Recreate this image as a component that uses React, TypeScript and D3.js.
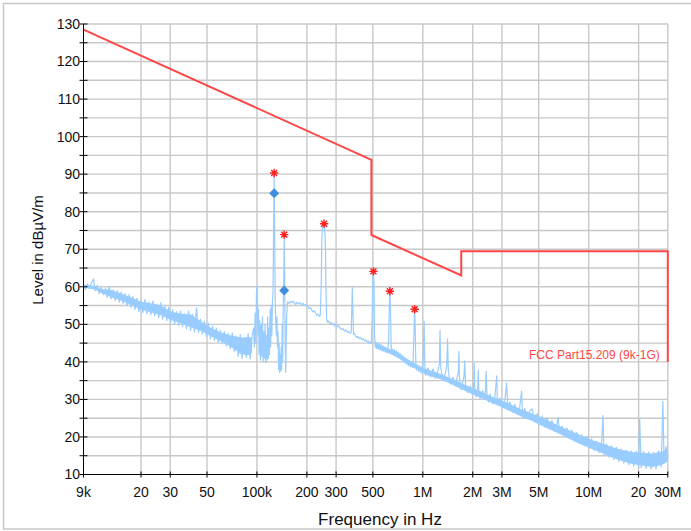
import React from 'react';
import * as d3 from 'd3';

// ---- axis ticks ----
const xTickValues = [9e3, 2e4, 3e4, 5e4, 1e5, 2e5, 3e5, 5e5, 1e6, 2e6, 3e6, 5e6, 1e7, 2e7, 3e7];
const xTickLabels = ['9k', '20', '30', '50', '100k', '200', '300', '500', '1M', '2M', '3M', '5M', '10M', '20', '30M'];
const yMajorTicks = [10, 20, 30, 40, 50, 60, 70, 80, 90, 100, 110, 120, 130];
const yMinorTicks = [15, 25, 35, 45, 55, 65, 75, 85, 95, 105, 115, 125];

// ---- limit line FCC Part15.209 (Hz, dBµV/m) ----
const limitLine: [number, number][] = [
  [9e3, 128.5], [490e3, 93.8], [490e3, 73.8], [1.705e6, 63.0], [1.705e6, 69.5], [30e6, 69.5], [30e6, 40],
];
const limitLabel = 'FCC Part15.209 (9k-1G)';

// ---- markers (kHz, dBµV/m) ----
const peakMarkers: [number, number][] = [
  [127, 90.3], [146, 73.9], [254, 76.8], [504, 64.1], [633, 58.8], [893, 54.0],
];
const qpMarkers: [number, number][] = [
  [127, 84.9], [146, 59.0],
];

// ---- dense noise band of the measured spectrum (kHz, low dB, high dB) ----
const bandLow: [number, number, number][] = [
  [9, 59.8, 60.6], [10.6, 59.2, 60.2], [11.4, 58.5, 59.4], [13.1, 57.3, 59.2], [15, 56.4, 58.3], [17.3, 55.2, 57.3],
  [19.9, 54.0, 56.0], [22.8, 53.2, 55.6], [26.3, 52.5, 55.0], [30.2, 51.2, 53.4], [34.7, 50.3, 52.8], [39.9, 49.2, 52.6],
  [45.9, 48.3, 50.8], [52.8, 46.8, 49.0], [60.7, 45.5, 47.8], [69.7, 44.0, 47.0], [80.2, 42.0, 46.5], [89.6, 41.8, 46.6],
  [93.5, 42.5, 46.5],
];
const bandHigh: [number, number, number][] = [
  [516, 43.8, 45.0], [600, 42.6, 43.8], [700, 41.3, 42.6], [800, 39.5, 40.8], [900, 38.2, 39.5], [1000, 37.2, 38.4],
  [1040, 36.6, 38.2], [1290, 35.3, 36.8], [1480, 34.1, 35.6], [1700, 32.8, 34.4], [1960, 31.5, 33.2], [2250, 30.4, 32.1],
  [2590, 29.1, 30.8], [2980, 28.0, 29.8], [3420, 26.7, 28.6], [3940, 25.4, 27.3], [4530, 24.3, 26.3], [5200, 23.0, 25.2],
  [6000, 21.8, 23.9], [6880, 20.5, 22.6], [7900, 19.2, 21.5], [9100, 17.9, 20.3], [10460, 16.8, 19.2], [12000, 15.7, 18.3],
  [13800, 14.5, 17.3], [15900, 13.6, 16.5], [18300, 12.8, 16.0], [21000, 12.4, 15.8], [24200, 12.0, 15.6],
  [27800, 12.6, 16.2], [30000, 13.5, 17.0],
];

// ---- measured spectrum trace (kHz, dBµV/m) ----
const traceLow: [number, number][] = [
  [9.0, 60.5], [9.25, 59.3], [9.5, 60.8], [9.77, 59.6], [10.05, 61.0], [10.33, 62.1], [10.6, 58.9], [10.9, 60.4],
  [11.2, 58.2], [11.5, 59.8], [11.85, 57.9], [12.2, 59.5], [12.5, 57.2], [12.85, 60.1], [13.2, 56.8], [13.6, 59.2],
  [14.0, 56.3], [14.4, 58.9], [14.8, 55.9], [15.2, 58.6], [15.6, 55.6], [16.0, 58.2], [16.5, 55.0], [16.95, 57.9],
  [17.4, 54.5], [17.9, 57.4], [18.4, 54.0], [18.9, 56.9], [19.4, 53.4], [20.0, 56.4], [20.5, 53.1], [21.1, 56.6],
  [21.7, 52.8], [22.3, 55.9], [22.9, 52.6], [23.6, 56.2], [24.2, 52.3], [24.9, 55.4], [25.6, 51.8], [26.3, 55.7],
  [27.0, 51.4], [27.8, 54.8], [28.6, 51.0], [29.4, 54.5], [30.2, 50.5], [31.0, 53.9], [31.9, 50.2], [32.8, 53.4],
  [33.7, 49.7], [34.6, 53.5], [35.6, 49.4], [36.6, 52.8], [37.6, 48.9], [38.7, 53.5], [39.8, 48.3], [40.9, 52.6],
  [42.0, 48.0], [43.2, 54.4], [44.4, 47.8], [45.6, 51.4], [46.9, 47.4], [48.2, 50.8], [49.6, 46.8], [51.0, 50.3],
  [52.4, 46.1], [53.9, 49.5], [55.4, 45.7], [56.9, 49.0], [58.5, 45.2], [60.2, 48.3], [61.8, 44.8], [63.6, 48.0],
  [65.4, 44.2], [67.2, 47.5], [69.1, 43.5], [71.0, 47.7], [73.0, 42.8], [75.0, 46.9], [77.1, 41.5], [79.3, 47.3],
  [81.5, 40.9], [83.8, 46.2], [86.1, 41.2], [88.5, 47.5], [91.0, 40.8], [93.5, 47.0],
];
const traceMid: [number, number][] = [
  [95.5, 49], [96.5, 44], [97.5, 53], [98.5, 45], [99.3, 58], [100, 60.1], [100.8, 55], [101.5, 47], [102.3, 54],
  [103, 42], [104, 51], [105, 40.5], [106, 50], [107, 41.5], [108, 52], [109, 40], [110, 48], [111, 41], [112, 50],
  [113, 39.8], [114, 47], [115, 40.5], [116, 52], [117, 41], [118, 49], [119, 42], [120, 54], [121, 44], [122, 55],
  [123, 47], [124, 56], [125, 58], [126, 75], [127, 90.3], [128, 72], [129, 55], [130, 50], [131, 47], [132, 52],
  [133, 44], [134, 48], [135, 38], [136, 45], [137, 37.2], [138, 42], [139, 37.5], [140, 44], [141, 38], [142, 50],
  [143, 40], [144, 55], [145, 62], [146, 73.9], [147, 62], [148, 45], [149, 37.2], [150, 45], [151, 52],
];
const traceHigh: [number, number][] = [
  [153, 56.0], [156, 55.6], [159, 56.1], [162, 55.8], [165, 56.2], [168, 55.7], [171, 55.3], [174, 55.9], [178, 55.5],
  [182, 55.8], [186, 55.2], [190, 55.6], [194, 54.9], [198, 55.3], [202, 54.7], [206, 54.2], [210, 54.5], [214, 53.8],
  [218, 53.3], [222, 53.6], [226, 52.9], [230, 52.4], [234, 52.7], [238, 52.1], [241, 52.4], [244, 60], [246, 72],
  [248, 75.5], [251, 76.8], [254, 76.6], [257, 74.5], [259, 70], [261, 58], [263, 51.5], [266, 50.6], [270, 50.9],
  [274, 50.3], [278, 50.6], [283, 49.9], [288, 50.3], [293, 49.6], [299, 50.0], [305, 49.3], [311, 49.6], [317, 49.0],
  [323, 48.6], [330, 48.9], [337, 48.2], [344, 48.5], [351, 47.9], [358, 48.1], [365, 47.6], [370, 47.9], [374, 56],
  [376, 59.8], [378, 55], [382, 47.3], [386, 47.6], [392, 47.0], [399, 46.5], [406, 46.8], [413, 46.2], [420, 46.5],
  [428, 45.9], [436, 46.2], [444, 45.6], [452, 45.9], [460, 45.3], [468, 45.6], [476, 45.0], [484, 45.3], [490, 44.8],
  [495, 52], [500, 62], [504, 64.1], [508, 60], [512, 47], [516, 44.0], [522, 45.3], [528, 43.6], [534, 45.1],
  [540, 43.4], [547, 44.8], [554, 43.2], [561, 44.6], [568, 42.9], [575, 44.3], [583, 42.7], [591, 44.0], [599, 42.5],
  [607, 43.6], [615, 42.4], [622, 46], [628, 55], [633, 58.8], [638, 55], [644, 45], [650, 42.0], [658, 43.4],
  [666, 41.8], [675, 43.2], [684, 41.5], [693, 42.9], [702, 41.2], [711, 42.6], [720, 41.0], [730, 42.2], [740, 40.6],
  [750, 41.8], [760, 40.1], [770, 41.3], [780, 39.7], [790, 40.9], [800, 39.3], [811, 40.6], [822, 39.0], [833, 40.3],
  [844, 38.7], [855, 40.0], [866, 38.5], [875, 41], [885, 48], [893, 54.0], [900, 49], [908, 39.5], [920, 37.8],
  [930, 39.2], [942, 37.5], [954, 38.9], [966, 37.2], [978, 38.7], [990, 37.0], [1000, 38.5], [1008, 42],
  [1018, 50.8], [1025, 43], [1032, 37.0],
];
const traceTop: [number, number][] = [
  [1040, 36.5], [1076, 38.4], [1114, 36.0], [1153, 38.1], [1193, 35.6], [1235, 37.7], [1258, 39.5], [1270, 48.4],
  [1283, 38.5], [1323, 35.1], [1369, 37.1], [1395, 39.0], [1410, 46.1], [1425, 37.5], [1467, 34.1], [1518, 35.9],
  [1571, 33.6], [1610, 35.8], [1640, 37.5], [1650, 42.8], [1662, 36.0], [1700, 32.6], [1742, 34.6], [1770, 36.0],
  [1790, 40.3], [1810, 33.5], [1866, 31.8], [1931, 33.6], [1999, 31.3], [2030, 34.5], [2040, 39.7], [2055, 33.5],
  [2100, 30.6], [2141, 32.9], [2160, 37.9], [2180, 31.5], [2216, 30.2], [2294, 32.3], [2374, 30.0], [2410, 37.5],
  [2440, 30.5], [2500, 29.3], [2543, 31.5], [2632, 28.9], [2724, 30.9], [2790, 36.3], [2820, 28.5], [2918, 30.4],
  [3020, 27.7], [3126, 29.8], [3200, 34.4], [3260, 27.3], [3349, 29.3], [3466, 26.6], [3587, 28.7], [3713, 26.0],
  [3843, 28.0], [3940, 32.2], [4000, 25.3], [4116, 27.6], [4260, 24.9], [4410, 26.9], [4560, 27.5], [4720, 24.0],
  [4890, 26.2], [5060, 23.3], [5240, 25.6], [5420, 22.7], [5610, 25.0], [5810, 22.1], [6010, 24.4], [6220, 21.5],
  [6440, 23.6], [6550, 25.2], [6660, 20.9], [6900, 22.9], [7140, 20.3], [7390, 22.4], [7650, 19.6], [7910, 21.8],
  [8190, 18.9], [8480, 21.2], [8770, 18.3], [9080, 20.6], [9400, 17.6], [9730, 20.1], [10070, 17.0], [10420, 19.5],
  [10780, 16.4], [11160, 18.9], [11550, 15.8], [11960, 18.6], [12200, 25.7], [12370, 15.3], [12810, 18.1],
  [13260, 14.6], [13720, 17.6], [14200, 14.0], [14700, 17.2], [15210, 13.4], [15740, 16.8], [16290, 13.0],
  [16860, 16.5], [17450, 12.6], [18060, 16.3], [18700, 12.3], [19350, 16.2], [20030, 12.0], [20300, 24.8],
  [20730, 11.9], [21450, 16.1], [22200, 11.6], [22980, 16.0], [23790, 11.4], [24620, 15.9], [25480, 11.5],
  [26370, 16.3], [27300, 12.0], [27700, 20], [28000, 29.5], [28250, 22], [28500, 13], [29240, 17.4], [30000, 14.5],
];

const FONT = "'Liberation Sans', Arial, Helvetica, sans-serif";

export default function App() {
  const W = 691;
  const H = 531;
  const x = d3.scaleLog().domain([9e3, 30e6]).range([83.5, 667.8]);
  const y = d3.scaleLinear().domain([10, 130]).range([474.5, 24]);
  const [x0, x1] = x.range();
  const [yb, yt] = y.range();

  const trace = [...traceLow, ...traceMid, ...traceHigh, ...traceTop].map(([k, v]) => [k * 1000, v] as [number, number]);
  const line = d3.line<[number, number]>().x((d) => x(d[0])).y((d) => y(d[1]));
  const area = d3
    .area<[number, number, number]>()
    .x((d) => x(d[0] * 1000))
    .y0((d) => y(d[1]))
    .y1((d) => y(d[2]));

  const gridColor = '#c8c8c8';
  const red = '#ff4646';
  const blue = '#99ccff';

  const asterisk = (cx: number, cy: number, r: number) => {
    const p = d3.path();
    for (let i = 0; i < 4; i++) {
      const a = (i * Math.PI) / 4;
      p.moveTo(cx - r * Math.cos(a), cy - r * Math.sin(a));
      p.lineTo(cx + r * Math.cos(a), cy + r * Math.sin(a));
    }
    return p.toString();
  };
  const diamond = (cx: number, cy: number, r: number) =>
    `M${cx},${cy - r}L${cx + r},${cy}L${cx},${cy + r}L${cx - r},${cy}Z`;

  return (
    <svg width={W} height={H} style={{ position: 'absolute', left: 0, top: 0, background: '#fff' }} fontFamily={FONT}>
      <rect x={3.5} y={3.5} width={720} height={525.5} fill="none" stroke="#c8c8c8" strokeWidth={1.5} />
      {/* grid */}
      {[...yMinorTicks, ...yMajorTicks].filter((v) => v > 10).map((v) => (
        <line key={'gy' + v} x1={x0} x2={x1} y1={y(v)} y2={y(v)} stroke={gridColor} strokeWidth={1.4} />
      ))}
      {xTickValues.slice(1).map((v) => (
        <line key={'gx' + v} x1={x(v)} x2={x(v)} y1={yt} y2={yb} stroke={gridColor} strokeWidth={1.4} />
      ))}
      {/* spectrum */}
      <path d={area(bandLow) || ''} fill={blue} />
      <path d={area(bandHigh) || ''} fill={blue} />
      <path d={line(trace) || ''} fill="none" stroke={blue} strokeWidth={1.2} strokeLinejoin="round" />
      {/* limit */}
      <path d={line(limitLine) || ''} fill="none" stroke={red} strokeWidth={2} />
      <text x={529} y={358.5} fontSize={12} fill={red}>{limitLabel}</text>
      {/* markers */}
      {qpMarkers.map(([f, v], i) => (
        <path key={'qp' + i} d={diamond(x(f * 1000), y(v), 5)} fill="#3d8fdc" />
      ))}
      {peakMarkers.map(([f, v], i) => (
        <path key={'pk' + i} d={asterisk(x(f * 1000), y(v), 4.2)} stroke="#ff1f1f" strokeWidth={1.4} fill="none" />
      ))}
      {/* axes */}
      <line x1={x0} x2={x0} y1={yt} y2={yb} stroke="#000" strokeWidth={1} />
      <line x1={x0} x2={x1} y1={yb} y2={yb} stroke="#000" strokeWidth={1} />
      {[...yMajorTicks, ...yMinorTicks].map((v) => (
        <line key={'ty' + v} x1={x0 - 4} x2={x0 + 4} y1={y(v)} y2={y(v)} stroke="#000" strokeWidth={1} />
      ))}
      {yMajorTicks.map((v) => (
        <text key={'ly' + v} x={x0 - 3.5} y={y(v)} dy="0.35em" textAnchor="end" fontSize={14} fill="#111">{v}</text>
      ))}
      {xTickValues.map((v) => (
        <line key={'tx' + v} x1={x(v)} x2={x(v)} y1={yb - 3} y2={yb + 3} stroke="#000" strokeWidth={1} />
      ))}
      {xTickValues.map((v, i) => (
        <text key={'lx' + v} x={x(v)} y={496.5} textAnchor="middle" fontSize={14} fill="#111">{xTickLabels[i]}</text>
      ))}
      <text x={380} y={525} textAnchor="middle" fontSize={17} fill="#111">Frequency in Hz</text>
      <text transform="translate(43,250) rotate(-90)" textAnchor="middle" fontSize={15} fill="#111">Level in dBµV/m</text>
    </svg>
  );
}
